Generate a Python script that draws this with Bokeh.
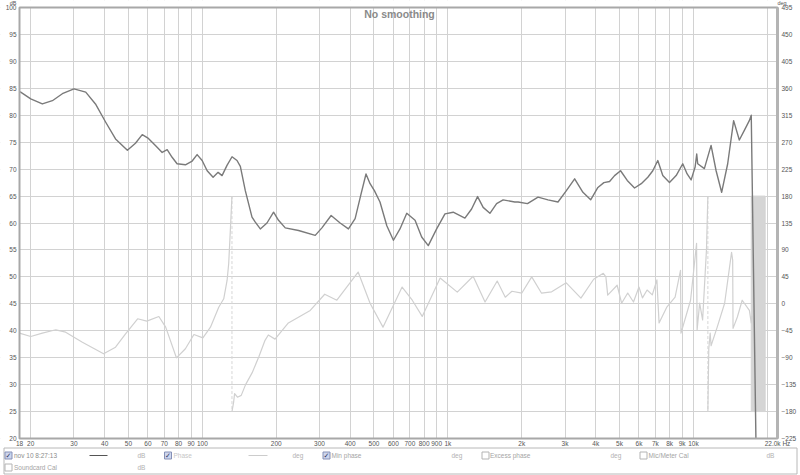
import numpy as np
from bokeh.plotting import figure
from bokeh.models import LinearAxis, Range1d, FixedTicker, Label
from bokeh.embed import file_html
from bokeh.resources import INLINE
from bokeh.core.properties import value

# ---------------- data ----------------
spl_freq = [18, 18.2, 20, 22.3, 24.5, 26.9, 30, 33.5, 36.7, 40.4, 44.3, 49.5, 53.4, 56.9, 60.3, 64.4,
            68.6, 71.9, 75.3, 78.9, 85.3, 90.9, 95.2, 99.8, 104.6, 110.6, 115.9, 120.3, 126, 132.1,
            138.4, 142.8, 149.6, 159.3, 164.3, 172.2, 183.3, 195, 204.3, 217.6, 246.5, 288.2, 306.8,
            334.6, 364, 393.5, 419, 443, 464, 482, 502, 529, 564, 600, 638, 680, 735, 782, 832, 900,
            973, 1051, 1173, 1249, 1321, 1392, 1483, 1579, 1679, 1873, 1931, 2109, 2329, 2557, 2808,
            3038, 3283, 3548, 3815, 4083, 4318, 4555, 4774, 5050, 5376, 5757, 6131, 6520, 6832, 7159,
            7502, 7989, 8505, 9048, 9428, 9787, 10160, 10314, 10410, 11080, 11800, 12370, 13030,
            13790, 14580, 15380, 16120, 16890, 17200, 18100]
spl_db = [84.4, 84.3, 83.05, 82.1, 82.7, 84.0, 84.9, 84.3, 82.1, 78.7, 75.6, 73.5, 74.8, 76.4, 75.7,
          74.4, 73.1, 73.6, 72.2, 71.0, 70.8, 71.5, 72.7, 71.6, 69.7, 68.5, 69.4, 68.8, 70.7, 72.3,
          71.6, 70.5, 66.0, 61.1, 60.15, 58.9, 60.0, 62.0, 60.5, 59.1, 58.6, 57.7, 59.1, 61.4, 60.0,
          58.9, 60.8, 65.4, 69.1, 67.3, 66.0, 63.9, 59.5, 56.8, 58.9, 61.8, 60.5, 57.4, 55.8, 58.9,
          61.7, 62.0, 60.9, 62.6, 64.9, 62.9, 61.8, 63.6, 64.3, 63.9, 63.9, 63.6, 64.8, 64.3, 63.9,
          66.0, 68.2, 65.7, 64.3, 66.6, 67.5, 67.7, 68.8, 69.7, 67.9, 66.5, 67.3, 68.5, 69.7, 71.6,
          68.8, 67.5, 68.8, 71.0, 69.1, 68.0, 70.4, 72.8, 71.0, 70.1, 74.4, 69.7, 65.7, 71.0, 79.0,
          75.4, 77.2, 79.0, 80.0, 10.0]

phase1_freq = [18, 20, 22.3, 25.3, 27.75, 32.46, 39.6, 44.3, 48.66, 54.5, 59.4, 66.5, 70.9, 78.4, 85.3,
               92.4, 100.5, 107.9, 116.6, 122.2, 126.1, 128.0, 130.0, 132]
phase1_deg = [-49.0, -54.6, -49.0, -43.4, -47.4, -64.1, -83.5, -72.4, -50.1, -25.0, -29.0, -21.2, -39.0,
              -90.2, -75.1, -51.3, -56.8, -39.0, -5.7, 8.4, 39.0, 66.9, 122.5, 180]

phase2_freq = [132, 134, 135.3, 139, 144, 150, 159.6, 170, 180, 185.6, 197.7, 224, 275, 315, 353, 431,
               482, 544, 651, 716, 786, 930, 1092, 1267, 1417, 1588, 1713, 1823, 2001, 2195, 2404, 2646,
               3034, 3482, 3924, 4295, 4400, 4476, 4890, 5100, 5400, 5700, 6000, 6200, 6476, 6800, 7100,
               7245, 7778, 8421, 8860, 8900, 9735, 10300, 10350, 10600, 10900, 11300, 11450]
phase2_deg = [-180, -165, -150, -156, -153, -135, -115, -88, -61, -52, -59, -32, -11, 16, 6, 53, 1, -39,
              28, 6, -21, 43, 19.5, 46, 3, 38, 11, 21, 18, 45, 18, 20, 35, 9.5, 41, 51, 45, 14.5, 31, 1,
              18, 3, 28, 10, 23, 15, 40, -32, -6, 11, 56, -49, 6, 101, -44, 1, -27, 90, 180]

phase3_freq = [11450, 11550, 11700, 11800, 12500, 13400, 14300, 14450, 14500, 15100, 15800, 16900,
               17200, 17300]
phase3_deg = [-180, -75, -49, -70, -39, 1, 86, 73, -41, -22, 6, -11, -32, -20]

wrap_freq = [132, 11450]            # phase wraps (+180 -> -180)
noise_band_freq = [17200, 19600]    # dense wrapped phase above 17 kHz
noise_band_deg = [-180, 180]

x_ticks = [18, 20, 30, 40, 50, 60, 70, 80, 90, 100, 200, 300, 400, 500, 600, 700, 800, 900,
           1000, 2000, 3000, 4000, 5000, 6000, 7000, 8000, 9000, 10000, 22000]
x_tick_labels = ["18", "20", "30", "40", "50", "60", "70", "80", "90", "100", "200", "300", "400",
                 "500", "600", "700", "800", "900", "1k", "2k", "3k", "4k", "5k", "6k", "7k", "8k",
                 "9k", "10k", "22.0k Hz"]
x_grid = [20, 30, 40, 50, 60, 70, 80, 90, 100, 200, 300, 400, 500, 600, 700, 800, 900,
          1000, 2000, 3000, 4000, 5000, 6000, 7000, 8000, 9000, 10000, 20000]
db_ticks = list(range(20, 101, 5))
deg_ticks = list(range(-225, 496, 45))

legend_names = ["nov 10 8:27:13", "Phase", "Min phase", "Excess phase", "Mic/Meter Cal", "Soundcard Cal"]
legend_units = ["dB", "deg", "deg", "deg", "dB", "dB"]
legend_checked = [True, True, True, False, False, False]

# ---------------- geometry (canvas pixels) ----------------
W, H = 800, 475
PL, PR, PT, PB = 19, 777, 7, 438          # plot-area edges inside the canvas
F0, F1, D0, D1 = 18.0, 22000.0, 20.0, 100.0
dpp = (np.log10(F1) - np.log10(F0)) / (PR - PL)
XS = 10 ** (np.log10(F0) - PL * dpp)
XE = 10 ** (np.log10(F1) + (W - PR) * dpp)
ypp = (D1 - D0) / (PB - PT)
YT = D1 + PT * ypp
YB = D0 - (H - PB) * ypp
DEG_T = (YT - 20) * 9 - 225
DEG_B = (YB - 20) * 9 - 225


def px_x(fx):
    return 10 ** (np.log10(XS) + fx * dpp)


def px_y(fy):
    return YT - fy * ypp


FONT = "Liberation Sans"
SPL_COLOR = "#7a7a7a"
PH_COLOR = "#d0d0d0"
LBL_COLOR = "#555555"

p = figure(width=W, height=H, x_axis_type="log", x_range=Range1d(XS, XE),
           y_range=Range1d(YB, YT), output_backend="svg", toolbar_location=None,
           min_border=0, min_border_left=0, min_border_right=0, min_border_top=0,
           min_border_bottom=0, background_fill_color="white", border_fill_color="white")
p.extra_y_ranges = {"deg": Range1d(DEG_B, DEG_T)}
p.outline_line_color = None

# axes at fixed locations on the plot-area edges
p.xaxis.fixed_location = D0
p.xaxis.ticker = FixedTicker(ticks=x_ticks, minor_ticks=[])
p.xaxis.major_label_overrides = {t: l for t, l in zip(x_ticks, x_tick_labels)}
p.yaxis.fixed_location = F0
p.yaxis.ticker = FixedTicker(ticks=db_ticks, minor_ticks=[])
ry = LinearAxis(y_range_name="deg", fixed_location=F1,
                ticker=FixedTicker(ticks=deg_ticks, minor_ticks=[]))
p.add_layout(ry, "right")
for ax in (p.xaxis[0], p.yaxis[0], ry):
    ax.axis_line_color = None
    ax.major_tick_line_color = None
    ax.minor_tick_line_color = None
    ax.major_tick_out = 0
    ax.major_tick_in = 0
    ax.minor_tick_out = 0
    ax.minor_tick_in = 0
    ax.major_label_text_font = FONT
    ax.major_label_text_font_size = "6.5px"
    ax.major_label_text_color = LBL_COLOR
p.xaxis.major_label_standoff = 1
p.yaxis.major_label_standoff = 3
ry.major_label_standoff = 4

p.xgrid.ticker = FixedTicker(ticks=x_grid, minor_ticks=[])
p.ygrid.ticker = FixedTicker(ticks=db_ticks, minor_ticks=[])
p.xgrid.grid_line_color = "#d2d2d2"
p.ygrid.grid_line_color = "#d2d2d2"

# noise band, phase wraps, curves
p.quad(left=[noise_band_freq[0]], right=[noise_band_freq[1]], bottom=[noise_band_deg[0]],
       top=[noise_band_deg[1]], y_range_name="deg", fill_color="#d5d5d5", line_color="#d5d5d5")
p.segment(x0=wrap_freq, x1=wrap_freq, y0=[180] * len(wrap_freq), y1=[-180] * len(wrap_freq),
          y_range_name="deg", line_color="#d6d6d6", line_width=1, line_dash="3 2")

ph_x = phase1_freq + [np.nan] + phase2_freq + [np.nan] + phase3_freq
ph_y = phase1_deg + [np.nan] + phase2_deg + [np.nan] + phase3_deg
p.line(ph_x, ph_y, y_range_name="deg", line_color=PH_COLOR, line_width=1.2, line_join="round")
p.line(spl_freq, spl_db, line_color=SPL_COLOR, line_width=1.4, line_join="round")

# white margins outside the plot area (hide grid / overshoot)
p.quad(left=[XS, XS, XS, F1], right=[XE, XE, F0, XE], bottom=[D1, YB, YB, YB],
       top=[YT, D0, YT, YT], fill_color="white", line_color=None)
# plot-area frame
p.quad(left=[F0], right=[F1], bottom=[D0], top=[D1], fill_color=None,
       line_color="#a8a8a8", line_width=2)
p.segment(x0=[F1], x1=[F1], y0=[D0], y1=[D1], line_color="#b4b4b4", line_width=3)

# title and unit labels
p.add_layout(Label(x=px_x((PL + PR) / 2 + 1), y=px_y(PT + 0.5), text="No smoothing",
                   text_align="center", text_baseline="top", text_font=FONT,
                   text_font_size="10.5px", text_font_style="bold", text_color="#8a8a8a"))
p.add_layout(Label(x=px_x(PL - 3), y=px_y(-0.5), text="dB", text_align="right",
                   text_baseline="top", text_font=FONT, text_font_size="5.5px",
                   text_color=LBL_COLOR))
p.add_layout(Label(x=px_x(PR), y=px_y(-0.5), text="deg", text_align="left",
                   text_baseline="top", text_font=FONT, text_font_size="5.5px",
                   text_color=LBL_COLOR))

# ---------------- legend panel (canvas px positions) ----------------
LG_L, LG_R, LG_T, LG_B = 3.5, 796.5, 447.5, 473.5
ROW = [455.0, 467.0]
box_px = [8.0, 167.5, 326.0, 485.0, 643.0, 8.0]
item_row = [0, 0, 0, 0, 0, 1]
name_px = [13.5, 173.0, 331.0, 489.5, 648.0, 13.5]
unit_px = [137.0, 292.0, 451.0, 610.0, 766.0, 137.0]
sample_px = [(89.0, 107.0), (248.0, 267.0)]
sample_colors = ["#555555", "#cccccc"]
name_colors = ["#8c8c8c", "#c6c6c6", "#a4a4a4", "#a4a4a4", "#a4a4a4", "#a4a4a4"]

p.quad(left=[px_x(LG_L)], right=[px_x(LG_R)], top=[px_y(LG_T)], bottom=[px_y(LG_B)],
       fill_color=None, line_color="#b8b8b8", line_width=1)
box_x = [px_x(x) for x in box_px]
box_y = [px_y(ROW[r]) for r in item_row]
p.scatter(box_x, box_y, marker="square", size=7,
          fill_color=["#cdd6ee" if c else "white" for c in legend_checked],
          line_color=["#8590b6" if c else "#b4b4b4" for c in legend_checked])
chk_x = [bx for bx, c in zip(box_x, legend_checked) if c]
chk_y = [by for by, c in zip(box_y, legend_checked) if c]
p.text(x=chk_x, y=chk_y, text=["✓"] * len(chk_x), text_align="center", text_baseline="middle",
       text_font=value("DejaVu Sans"), text_font_size="7px", text_color="#2f3560")
p.text(x=[px_x(x) for x in name_px], y=box_y, text=legend_names, text_align="left",
       text_baseline="middle", text_font=value(FONT), text_font_size="6.5px", text_color=name_colors)
p.text(x=[px_x(u) for u in unit_px], y=box_y, text=legend_units, text_align="left",
       text_baseline="middle", text_font=value(FONT), text_font_size="6.5px", text_color="#b2b2b2")
p.segment(x0=[px_x(a) for a, b in sample_px], x1=[px_x(b) for a, b in sample_px],
          y0=[px_y(ROW[0])] * 2, y1=[px_y(ROW[0])] * 2, line_color=sample_colors, line_width=1)

open("out.html", "w").write(file_html(p, INLINE))
